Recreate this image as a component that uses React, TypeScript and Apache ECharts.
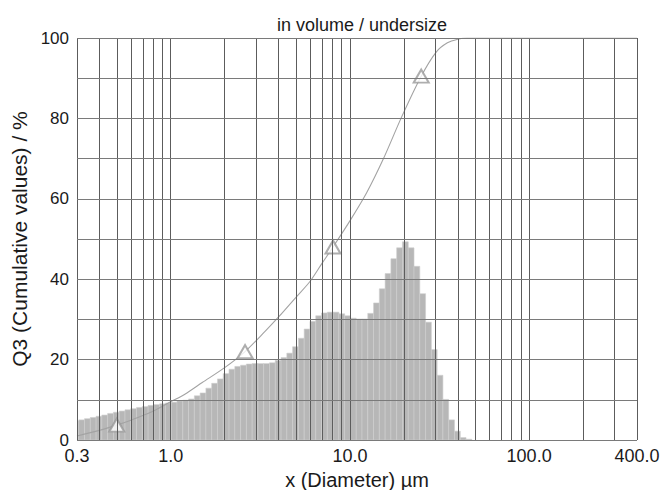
import React, { useEffect, useRef } from "react";
import * as echarts from "echarts";

// ---- data ----
const X_MIN = 0.3;
const X_MAX = 400;
const X_LABEL_TICKS = [0.3, 1, 10, 100, 400];
const V_GRID = [0.3, 0.4, 0.5, 0.6, 0.7, 0.8, 0.9, 1, 2, 3, 4, 5, 6, 7, 8, 9, 10, 20, 30, 40, 50, 60, 70, 80, 90, 100, 200, 300, 400];
const H_GRID = [0, 10, 20, 30, 40, 50, 60, 70, 80, 90, 100];

// histogram: geometric size classes
const BINS_PER_DECADE = 31;
const BIN_SHIFT = -0.7;
const HIST_VALUES = [
  4.7, 5.0, 5.3, 5.6, 5.9, 6.2, 6.6, 6.9, 7.2, 7.5,
  7.8, 8.1, 8.3, 8.6, 8.8, 9.0, 9.2, 9.4, 9.7, 9.9,
  10.2, 11.0, 11.7, 12.9, 14.1, 15.2, 16.5, 17.6, 18.3, 18.6,
  18.9, 19.0, 19.0, 19.0, 19.2, 19.8, 20.5, 21.6, 23.2, 25.3,
  27.6, 29.5, 30.9, 31.6, 31.8, 31.8, 31.4, 30.9, 30.3, 30.1,
  30.1, 31.5, 34.1, 37.6, 41.4, 45.1, 47.8, 49.3, 47.8, 43.2,
  36.4, 29.3, 22.5, 16.1, 10.1, 5.0, 2.2, 0.6, 0.2,
];

// cumulative curve Q3
const Q3_X = [0.3, 0.4, 0.5, 0.6, 0.7, 0.8, 1.0, 1.2, 1.5, 2.0, 2.6, 3.36, 4.0, 5.0, 6.0, 7.0, 8.05, 10, 12.4, 15.4, 19.5, 25, 30.3, 35, 40, 45, 400];
const Q3_Y = [1.0, 2.4, 3.7, 4.9, 6.1, 7.2, 9.5, 11.4, 14.3, 18.0, 22.0, 27.0, 30.6, 35.5, 39.5, 44.0, 48.0, 54.5, 61.5, 70.0, 80.5, 90.5, 96.5, 98.8, 99.7, 100, 100];

// triangle markers
const MARK_X = [0.5, 2.6, 8.05, 25];
const MARK_Y = [3.7, 22.0, 48.0, 90.5];

const TITLE = "in volume / undersize";
const X_NAME = "x (Diameter) µm";
const Y_NAME = "Q3 (Cumulative values) / %";

const FONT = "'Liberation Sans', Arial, Helvetica, sans-serif";

function binEdge(k: number) {
  return X_MIN * Math.pow(10, (k + BIN_SHIFT) / BINS_PER_DECADE);
}

export default function App() {
  const ref = useRef<HTMLDivElement>(null);

  useEffect(() => {
    if (!ref.current) return;
    const chart = echarts.init(ref.current, null, { renderer: "svg" });

    const histData = HIST_VALUES.map((v, k) => [binEdge(k), binEdge(k + 1), v]);

    const vLines = V_GRID.map((x) => ({ xAxis: x, lineStyle: { color: "#5c5c5c", width: 1, type: "solid" as const } }));
    const hLines = H_GRID.map((y) => ({ yAxis: y, lineStyle: { color: "#7a7a7a", width: 1, type: "solid" as const } }));

    chart.setOption({
      animation: false,
      backgroundColor: "#ffffff",
      textStyle: { fontFamily: FONT },
      title: {
        text: TITLE,
        left: 357,
        textAlign: "center",
        top: 11,
        textStyle: { fontSize: 18, fontWeight: "normal", color: "#1a1a1a", fontFamily: FONT },
      },
      grid: {
        left: 77,
        right: 35,
        top: 38,
        bottom: 50,
        containLabel: false,
        outerBoundsMode: "none",
      },
      xAxis: {
        type: "log",
        logBase: 10,
        min: X_MIN,
        max: X_MAX,
        name: X_NAME,
        nameLocation: "middle",
        nameGap: 26,
        nameTextStyle: { fontSize: 20, lineHeight: 20, color: "#1a1a1a", fontFamily: FONT },
        axisLine: { show: false },
        axisTick: { show: false },
        splitLine: { show: false },
        minorTick: { show: false },
        axisLabel: {
          fontSize: 18,
          color: "#1a1a1a",
          margin: 7,
          fontFamily: FONT,
          showMinLabel: true,
          showMaxLabel: true,
          customValues: X_LABEL_TICKS,
          formatter: (v: number) => (Math.round(v * 10) / 10).toFixed(1),
        },
      },
      yAxis: {
        type: "value",
        min: 0,
        max: 100,
        interval: 10,
        name: Y_NAME,
        nameLocation: "middle",
        nameGap: 36,
        nameTextStyle: { fontSize: 21, color: "#1a1a1a", fontFamily: FONT },
        axisLine: { show: false },
        axisTick: { show: false },
        splitLine: { show: false },
        axisLabel: {
          fontSize: 17,
          color: "#1a1a1a",
          margin: 8,
          fontFamily: FONT,
          formatter: (v: number) => (v % 20 === 0 ? String(v) : ""),
        },
      },
      series: [
        {
          type: "custom",
          name: "hist",
          clip: true,
          z: 2,
          data: histData,
          encode: { x: [0, 1], y: 2 },
          renderItem: (params: any, api: any) => {
            const lo = api.value(0);
            const hi = api.value(1);
            const v = api.value(2);
            const p0 = api.coord([lo, v]);
            const p1 = api.coord([hi, 0]);
            return {
              type: "rect",
              shape: { x: p0[0], y: p0[1], width: p1[0] - p0[0], height: p1[1] - p0[1] },
              style: { fill: "#b7b7b7", stroke: "#cecece", lineWidth: 0.6 },
            };
          },
        },
        {
          type: "line",
          name: "Q3",
          z: 3,
          data: Q3_X.map((x, i) => [x, Q3_Y[i]]),
          showSymbol: false,
          symbol: "none",
          smooth: 0.3,
          lineStyle: { color: "#a3a3a3", width: 1.1 },
          silent: true,
        },
        {
          type: "scatter",
          name: "marks",
          z: 4,
          data: MARK_X.map((x, i) => [x, MARK_Y[i]]),
          symbol: "emptyTriangle",
          symbolSize: [15, 13],
          itemStyle: { color: "#9a9a9a", borderColor: "#9a9a9a", borderWidth: 1 },
          silent: true,
          markLine: {
            silent: true,
            symbol: ["none", "none"],
            label: { show: false },
            z: 6,
            animation: false,
            data: [...vLines, ...hLines],
          },
        },
      ],
    });

    return () => {
      chart.dispose();
    };
  }, []);

  return (
    <div
      ref={ref}
      style={{ position: "fixed", left: 0, top: 0, width: 672, height: 490, background: "#fff" }}
    />
  );
}
